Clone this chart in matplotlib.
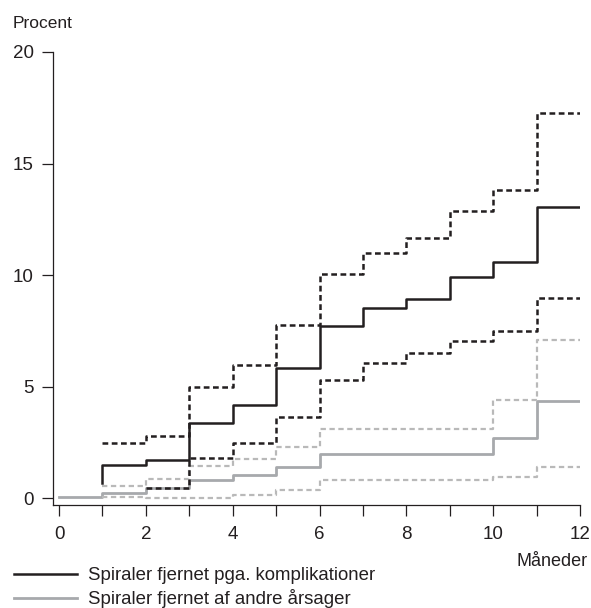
import matplotlib.pyplot as plt
from matplotlib.lines import Line2D

plt.rcParams['font.family'] = ['Liberation Sans', 'DejaVu Sans']

### data
maaneder = [1, 2, 3, 4, 5, 6, 7, 8, 9, 10, 11, 12]

# spiraler fjernet pga. komplikationer
komp_x = [1, 1, 2, 3, 4, 5, 6, 7, 8, 9, 10, 11, 12]
komp = [0.68, 1.5, 1.72, 3.38, 4.18, 5.82, 7.72, 8.55, 8.95, 9.92, 10.6, 13.07, 13.07]
komp_ovre = [2.47, 2.78, 4.98, 5.96, 7.76, 10.04, 11.0, 11.66, 12.87, 13.8, 17.25, 17.25]
komp_nedre_x = [2, 3, 4, 5, 6, 7, 8, 9, 10, 11, 12]
komp_nedre = [0.48, 1.8, 2.5, 3.65, 5.3, 6.07, 6.5, 7.04, 7.5, 8.98, 8.98]

# spiraler fjernet af andre aarsager
andre_x = [0, 1, 2, 3, 4, 5, 6, 7, 8, 9, 10, 11, 12]
andre = [0.05, 0.26, 0.47, 0.8, 1.03, 1.4, 2.0, 2.0, 2.0, 2.0, 2.7, 4.35, 4.35]
andre_ovre = [0.53, 0.87, 1.47, 1.75, 2.3, 3.12, 3.12, 3.12, 3.12, 4.4, 7.1, 7.1]
andre_nedre = [0.06, 0.0, 0.0, 0.14, 0.35, 0.8, 0.8, 0.8, 0.8, 0.97, 1.42, 1.42]

sort = '#231f20'
graa = '#a7a9ac'
graa_lys = '#b9b9b9'

fig = plt.figure(figsize=(5.91, 6.08), dpi=100)
ax = fig.add_axes([0.0897, 0.1694, 0.8917, 0.7451])

ax.step(andre_x, andre, where='post', color=graa, lw=2.0)
ax.step(maaneder, andre_ovre, where='post', color=graa_lys, lw=1.6, linestyle=(0, (2.4, 1.6)))
ax.step(maaneder, andre_nedre, where='post', color=graa_lys, lw=1.6, linestyle=(0, (2.4, 1.6)))
ax.step(komp_x, komp, where='post', color=sort, lw=1.8)
ax.step(maaneder, komp_ovre, where='post', color=sort, lw=1.8, linestyle=(0, (2.3, 1.4)))
ax.step(komp_nedre_x, komp_nedre, where='post', color=sort, lw=1.8, linestyle=(0, (2.3, 1.4)))

ax.set_xlim(-0.14, 12.0)
ax.set_ylim(-0.3, 20)
ax.spines['top'].set_visible(False)
ax.spines['right'].set_visible(False)
for s in ['left', 'bottom']:
    ax.spines[s].set_color(sort)
    ax.spines[s].set_linewidth(0.9)

ax.set_xticks(range(0, 13))
ax.set_xticklabels([str(i) if i % 2 == 0 else '' for i in range(0, 13)])
ax.set_yticks([0, 5, 10, 15, 20])
ax.tick_params(axis='both', length=8, width=0.9, color=sort, labelsize=13.5, labelcolor=sort)
ax.tick_params(axis='x', pad=7)
ax.tick_params(axis='y', pad=6)

fig.text(0.022, 0.962, 'Procent', fontsize=12.5, color=sort, va='center', ha='left')
fig.text(0.995, 0.077, 'Måneder', fontsize=13, color=sort, va='center', ha='right')

handles = [Line2D([], [], color=sort, lw=1.8), Line2D([], [], color=graa, lw=2.0)]
fig.legend(handles, ['Spiraler fjernet pga. komplikationer', 'Spiraler fjernet af andre årsager'],
           loc='lower left', bbox_to_anchor=(-0.005, -0.028), frameon=False, fontsize=13.4,
           handlelength=3.4, handletextpad=0.6, labelspacing=0.26, labelcolor=sort)

fig.savefig('out.png', dpi=100)
